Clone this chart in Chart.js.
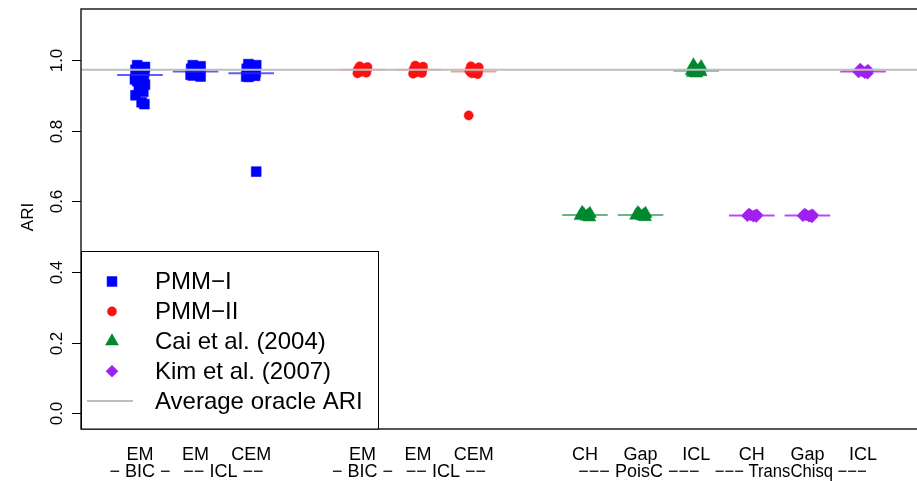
<!DOCTYPE html>
<html>
<head>
<meta charset="utf-8">
<script src="https://cdn.jsdelivr.net/npm/chart.js@4.4.1/dist/chart.umd.min.js"></script>
<style>
  html, body { margin: 0; padding: 0; background: #fff; overflow: hidden; }
  #wrap { width: 917px; height: 481px; }
  canvas { display: block; }
</style>
</head>
<body>
<div id="wrap"><canvas id="c" width="917" height="481"></canvas></div>
<script>
// Axis layout: slot of each method (gaps separate the four families)
const methodSlots = [1, 2, 3, 5, 6, 7, 9, 10, 11, 12, 13, 14];
const methodLabels = ["EM", "EM", "CEM", "EM", "EM", "CEM", "CH", "Gap", "ICL", "CH", "Gap", "ICL"];
const criterionLabels = ["− BIC −", "−− ICL −−", "− BIC −", "−− ICL −−", "−−− PoisC −−−", "−−− TransChisq −−−"];
const criterionCenters = [1, 2.5, 5, 6.5, 9.97, 12.7];
const yTickValues = [0, 0.2, 0.4, 0.6, 0.8, 1.0];

// ARI of each run, per method
const pmm1BicEM = [0.985, 0.98, 0.978, 0.975, 0.972, 0.97, 0.968, 0.965, 0.962, 0.96, 0.955, 0.95, 0.945, 0.94, 0.93, 0.92, 0.91, 0.90, 0.88, 0.875];
const pmm1IclEM = [0.985, 0.982, 0.98, 0.978, 0.975, 0.972, 0.97, 0.967, 0.966, 0.964, 0.962, 0.96, 0.958, 0.956, 0.953];
const pmm1IclCEM = [0.988, 0.985, 0.982, 0.978, 0.975, 0.97, 0.965, 0.962, 0.96, 0.958, 0.956, 0.955, 0.953, 0.952, 0.684];
const pmm2BicEM = [0.982, 0.98, 0.978, 0.976, 0.974, 0.973, 0.972, 0.971, 0.97, 0.968, 0.966, 0.964, 0.962];
const pmm2IclEM = [0.984, 0.981, 0.978, 0.976, 0.974, 0.973, 0.972, 0.971, 0.969, 0.967, 0.965, 0.963, 0.961];
const pmm2IclCEM = [0.982, 0.979, 0.976, 0.973, 0.97, 0.968, 0.967, 0.966, 0.965, 0.964, 0.962, 0.96, 0.843];
const caiPoisCCH = [0.568, 0.565, 0.563, 0.561, 0.559, 0.557, 0.555];
const caiPoisCGap = [0.567, 0.565, 0.563, 0.561, 0.56, 0.558, 0.556];
const caiIclICL = [0.985, 0.98, 0.976, 0.972, 0.969, 0.968, 0.966, 0.964, 0.962];
const kimTransCH = [0.564, 0.562, 0.561, 0.56, 0.559, 0.558, 0.557];
const kimTransGap = [0.564, 0.562, 0.561, 0.56, 0.559, 0.558, 0.556];
const kimIclICL = [0.974, 0.971, 0.969, 0.967, 0.966, 0.964, 0.962];

const oracleARI = 0.972;

// horizontal spread of the runs around each slot
const jitterPattern = [-0.05, 0.09, -0.02, 0.06, -0.08, 0.03, 0.08, -0.06, 0.0, 0.05, -0.03, 0.07, -0.09];
const halfWidth = 0.41;

const series = [
  { label: "PMM−I", color: "#0000ff", line: "rgba(40,40,255,0.75)", style: "rect", radius: 7, runs: [pmm1BicEM, pmm1IclEM, pmm1IclCEM], slots: [1, 2, 3] },
  { label: "PMM−II", color: "#ff1010", line: "rgba(240,60,60,0.5)", style: "circle", radius: 4.6, runs: [pmm2BicEM, pmm2IclEM, pmm2IclCEM], slots: [5, 6, 7] },
  { label: "Cai et al. (2004)", color: "#00882e", line: "rgba(0,136,46,0.6)", style: "triangle", radius: 7.5, runs: [caiPoisCCH, caiPoisCGap, caiIclICL], slots: [9, 10, 11] },
  { label: "Kim et al. (2007)", color: "#a020f0", line: "rgba(160,32,240,0.8)", style: "rectRot", radius: 6, runs: [kimTransCH, kimTransGap, kimIclICL], slots: [12, 13, 14] }
];

function median(arr) {
  const s = arr.slice().sort((a, b) => a - b);
  const m = Math.floor(s.length / 2);
  return s.length % 2 ? s[m] : (s[m - 1] + s[m]) / 2;
}

const datasets = [];
// average oracle ARI, drawn on top
datasets.push({
  type: "line", order: 0, data: [{ x: -1, y: oracleARI }, { x: 16, y: oracleARI }],
  borderColor: "#bebebe", borderWidth: 2, pointRadius: 0, fill: false
});
series.forEach(s => {
  s.runs.forEach((vals, k) => {
    const slot = s.slots[k];
    const med = median(vals);
    datasets.push({
      type: "line", order: 1,
      data: [{ x: slot - halfWidth, y: med }, { x: slot + halfWidth, y: med }],
      borderColor: s.line, borderWidth: 2, pointRadius: 0, fill: false
    });
    datasets.push({
      type: "scatter", order: 2,
      data: vals.map((v, i) => ({ x: slot + jitterPattern[i % jitterPattern.length], y: v })),
      pointStyle: s.style, pointRadius: s.radius, pointBackgroundColor: s.color,
      pointBorderColor: s.color, pointBorderWidth: 0.5, showLine: false
    });
  });
});

const FONT = '"Liberation Sans", Arial, Helvetica, sans-serif';

const decorations = {
  id: "decorations",
  afterDraw(chart) {
    const ctx = chart.ctx;
    const a = chart.chartArea;
    const xs = chart.scales.x, ys = chart.scales.y;
    ctx.save();

    // plot frame
    ctx.strokeStyle = "#222";
    ctx.lineWidth = 1.5;
    ctx.beginPath();
    ctx.moveTo(a.right, a.bottom);
    ctx.lineTo(a.left, a.bottom);
    ctx.lineTo(a.left, a.top);
    ctx.lineTo(a.right, a.top);
    ctx.stroke();

    // y ticks and rotated labels
    ctx.lineWidth = 1;
    ctx.strokeStyle = "#000";
    ctx.fillStyle = "#000";
    ctx.font = "17px " + FONT;
    yTickValues.forEach(v => {
      const py = Math.round(ys.getPixelForValue(v)) + 0.5;
      ctx.beginPath();
      ctx.moveTo(a.left - 9, py);
      ctx.lineTo(a.left, py);
      ctx.stroke();
      ctx.save();
      ctx.translate(62, py);
      ctx.rotate(-Math.PI / 2);
      ctx.textAlign = "center";
      ctx.textBaseline = "alphabetic";
      ctx.fillText(v.toFixed(1), 0, 0);
      ctx.restore();
    });

    // y title
    ctx.save();
    ctx.translate(33, (a.top + a.bottom) / 2 - 2);
    ctx.rotate(-Math.PI / 2);
    ctx.textAlign = "center";
    ctx.textBaseline = "alphabetic";
    ctx.font = "17px " + FONT;
    ctx.fillText("ARI", 0, 0);
    ctx.restore();

    // x labels: method, then criterion
    ctx.font = "18px " + FONT;
    ctx.textAlign = "center";
    ctx.textBaseline = "alphabetic";
    methodSlots.forEach((s, i) => ctx.fillText(methodLabels[i], xs.getPixelForValue(s), 460));
    criterionCenters.forEach((c, i) => ctx.fillText(criterionLabels[i], xs.getPixelForValue(c), 477, 152));

    // legend
    const lx = a.left + 0.5, ly = 251.5, lw = 297, lh = a.bottom - ly;
    ctx.fillStyle = "#fff";
    ctx.fillRect(lx, ly, lw, lh);
    ctx.strokeStyle = "#000";
    ctx.lineWidth = 1;
    ctx.strokeRect(lx, ly, lw, lh);
    ctx.font = "24px " + FONT;
    ctx.textAlign = "left";
    ctx.textBaseline = "middle";
    const rowY = i => 281.5 + i * 29.9;
    series.forEach((s, i) => {
      ctx.fillStyle = s.color;
      ctx.strokeStyle = s.color;
      ctx.lineWidth = 0.5;
      Chart.helpers.drawPoint(ctx, { pointStyle: s.style, radius: s.radius, rotation: 0, borderWidth: 0.5 }, 112, rowY(i));
      ctx.fillStyle = "#000";
      ctx.fillText(s.label, 155, rowY(i) + 1);
    });
    ctx.strokeStyle = "#bebebe";
    ctx.lineWidth = 2;
    ctx.beginPath();
    ctx.moveTo(87, rowY(4));
    ctx.lineTo(133, rowY(4));
    ctx.stroke();
    ctx.fillStyle = "#000";
    ctx.fillText("Average oracle ARI", 155, rowY(4) + 1);

    ctx.restore();
  }
};

new Chart(document.getElementById("c"), {
  type: "scatter",
  data: { datasets },
  options: {
    responsive: false,
    animation: false,
    layout: { autoPadding: false, padding: { top: 9, right: 0, left: 0, bottom: 0 } },
    plugins: { legend: { display: false }, tooltip: { enabled: false } },
    scales: {
      x: {
        type: "linear", min: -0.06, max: 14.97,
        ticks: { display: false }, grid: { display: false }, border: { display: false },
        afterFit(s) { s.height = 52; }
      },
      y: {
        type: "linear", min: -0.044, max: 1.144,
        ticks: { display: false }, grid: { display: false }, border: { display: false },
        afterBuildTicks(s) { s.ticks = yTickValues.map(v => ({ value: v })); },
        afterFit(s) { s.width = 81; }
      }
    }
  },
  plugins: [decorations]
});
</script>
</body>
</html>
